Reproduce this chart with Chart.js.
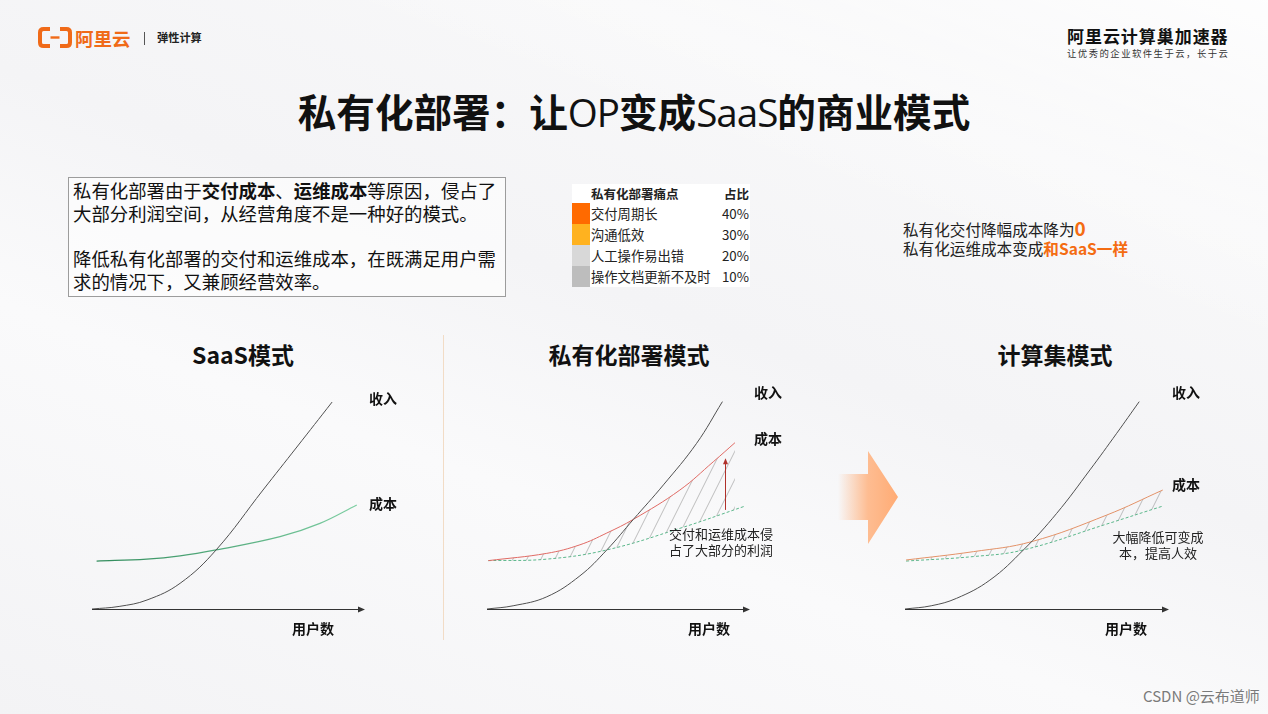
<!DOCTYPE html>
<html>
<head>
<meta charset="utf-8">
<script src="https://cdn.jsdelivr.net/npm/chart.js@4.4.0/dist/chart.umd.min.js"></script>
<style>
body {
    margin: 0;
    width: 1268px;
    height: 714px;
    overflow: hidden;
    position: relative;
    font-family: "Noto Sans CJK SC", "Noto Sans", sans-serif;
    color: #222;
    background:
        linear-gradient(200deg, rgba(255,255,255,0.9) 0%, rgba(255,255,255,0) 30%),
        linear-gradient(20deg, #f3f3f5 0%, #fafafb 35%, #f4f4f6 55%, #f8f8f9 80%, #f1f1f3 100%);
}
.abs { position: absolute; white-space: nowrap; }
.center { transform: translate(-50%, -50%); }
.vmid { transform: translateY(-50%); }
canvas { position: absolute; }
.sect { font-size: 23px; font-weight: bold; color: #111; line-height: 1; }
.lbl { font-size: 14px; font-weight: bold; color: #111; line-height: 1; }
.note { font-size: 13px; color: #222; line-height: 16px; }
#textBox {
    position: absolute; left: 68px; top: 177px; width: 432px; height: 117px;
    border: 1px solid #9c9c9c; background: rgba(255,255,255,0.55);
    font-size: 18.4px; line-height: 22.7px; padding: 1px 0 0 4px; box-sizing: content-box;
    white-space: nowrap; color: #111;
}
#painTable {
    position: absolute; left: 572px; top: 184px; width: 178px;
    background: #fff; font-size: 13.3px; color: #222;
}
#painTable .row { position: relative; height: 21px; line-height: 21px; }
#painTable .row.head { height: 19px; line-height: 19px; }
#painTable .sw { position: absolute; left: 0; top: 0; width: 18px; height: 21px; }
#painTable .name { position: absolute; left: 19px; }
#painTable .pct { position: absolute; right: 1px; }
#painTable .head { font-weight: bold; font-size: 12.5px; }
.orange { color: #f46c12; font-weight: bold; }
</style>
</head>
<body>

<!-- header -->
<svg class="abs" style="left:36px;top:26px" width="40" height="24" viewBox="36 26 40 24">
    <path d="M50,29 H43.5 Q40,29 40,32.5 V42.5 Q40,46 43.5,46 H50" fill="none" stroke="#f06a18" stroke-width="4"/>
    <path d="M60,29 H66.5 Q70,29 70,32.5 V42.5 Q70,46 66.5,46 H60" fill="none" stroke="#f06a18" stroke-width="4"/>
    <path d="M50.5,37.5 H59.5" stroke="#f06a18" stroke-width="2.4"/>
</svg>
<div class="abs vmid" style="left:75px;top:38px;font-size:18.5px;font-weight:bold;color:#f06a18;line-height:1">阿里云</div>
<div class="abs" style="left:144px;top:32px;width:1px;height:13px;background:#555"></div>
<div class="abs vmid" style="left:157px;top:38px;font-size:11.2px;font-weight:bold;color:#222;line-height:1">弹性计算</div>

<div class="abs vmid" style="left:1067px;top:35px;font-size:17px;font-weight:bold;letter-spacing:0.95px;color:#111;line-height:1">阿里云计算巢加速器</div>
<div class="abs vmid" style="left:1067px;top:54px;font-size:9.4px;letter-spacing:1.45px;color:#333;line-height:1">让优秀的企业软件生于云，长于云</div>

<div class="abs center" style="left:634px;top:111px;font-size:38.6px;font-weight:bold;color:#111;line-height:1">私有化部署：让<span style="font-weight:normal;font-family:'Open Sans','Noto Sans',sans-serif;letter-spacing:-1px">OP</span>变成<span style="font-weight:normal;font-family:'Open Sans','Noto Sans',sans-serif;letter-spacing:-1px">SaaS</span>的商业模式</div>

<!-- intro text -->
<div id="textBox">私有化部署由于<b>交付成本</b>、<b>运维成本</b>等原因，侵占了<br>大部分利润空间，从经营角度不是一种好的模式。<br><br>降低私有化部署的交付和运维成本，在既满足用户需<br>求的情况下，又兼顾经营效率。</div>

<!-- pain points table -->
<div id="painTable"></div>

<div class="abs vmid" style="left:903px;top:228px;font-size:15.6px;color:#222;line-height:1">私有化交付降幅成本降为<span class="orange" style="font-size:19px">0</span></div>
<div class="abs vmid" style="left:903px;top:249px;font-size:15.6px;color:#222;line-height:1">私有化运维成本变成<span class="orange">和SaaS一样</span></div>

<!-- section titles -->
<div class="abs center sect" style="left:243px;top:354px">SaaS模式</div>
<div class="abs center sect" style="left:629px;top:354px">私有化部署模式</div>
<div class="abs center sect" style="left:1055px;top:354px">计算集模式</div>
<div class="abs" style="left:443px;top:335px;width:1px;height:305px;background:#f2dcc6"></div>

<!-- arrow between charts -->
<svg class="abs" style="left:836px;top:448px" width="66" height="100" viewBox="836 448 66 100">
    <defs>
        <linearGradient id="arrowGrad" x1="0" x2="1" y1="0" y2="0">
            <stop offset="0" stop-color="#ffb27f" stop-opacity="0"/>
            <stop offset="0.5" stop-color="#ffb27f" stop-opacity="0.85"/>
            <stop offset="1" stop-color="#ffab74" stop-opacity="1"/>
        </linearGradient>
    </defs>
    <path d="M838,474 H868 V451 L898,497 L868,544 V520 H838 Z" fill="url(#arrowGrad)"/>
</svg>

<!-- charts -->
<canvas id="saasChart" width="295" height="238" style="left:80px;top:383px"></canvas>
<canvas id="privChart" width="285" height="238" style="left:475px;top:383px"></canvas>
<canvas id="nestChart" width="286" height="238" style="left:893px;top:383px"></canvas>

<div class="abs lbl" style="left:369px;top:391px">收入</div>
<div class="abs lbl" style="left:369px;top:496px">成本</div>
<div class="abs lbl" style="left:292px;top:621px">用户数</div>

<div class="abs lbl" style="left:754px;top:385px">收入</div>
<div class="abs lbl" style="left:754px;top:431px">成本</div>
<div class="abs lbl" style="left:688px;top:621px">用户数</div>
<div class="abs note" style="left:669px;top:526px">交付和运维成本侵<br>占了大部分的利润</div>

<div class="abs lbl" style="left:1172px;top:385px">收入</div>
<div class="abs lbl" style="left:1172px;top:477px">成本</div>
<div class="abs lbl" style="left:1105px;top:621px">用户数</div>
<div class="abs note" style="left:1158px;top:529px;transform:translateX(-50%);text-align:center">大幅降低可变成<br>本，提高人效</div>

<div class="abs vmid" style="left:1143px;top:695px;font-size:15px;color:#7a7a7a;line-height:1;text-shadow:0 0 2px #fff">CSDN @云布道师</div>

<script>
// pain points
const painLabels = ['交付周期长', '沟通低效', '人工操作易出错', '操作文档更新不及时'];
const painShares = ['40%', '30%', '20%', '10%'];
const painColors = ['#ff6a00', '#ffb21f', '#d8d8d8', '#bdbdbd'];

// SaaS model (x: users, y: amount)
const saasRevenueX = [0, 1, 2.03, 3.25, 4.58, 6.31, 7.56, 8.86];
const saasRevenueY = [0, 0.12, 0.42, 1.2, 2.76, 5.56, 7.57, 9.67];
const saasCostX = [0.17, 2.02, 3.25, 4.58, 6.94, 8.41, 9.77];
const saasCostY = [2.24, 2.33, 2.48, 2.76, 3.38, 4.0, 4.86];

// private deployment model
const privRevenueX = [0, 1, 2.29, 3.56, 4.59, 5.61, 6.76, 8.03, 9.02];
const privRevenueY = [0, 0.15, 0.57, 1.55, 2.76, 4.19, 5.8, 7.74, 9.69];
const privCostX = [0.05, 2.29, 3.56, 4.59, 5.61, 7.39, 8.67, 9.5];
const privCostY = [2.26, 2.6, 3.0, 3.55, 4.19, 5.56, 6.88, 7.77];
const privBaseX = [0.05, 2.29, 4.59, 7.39, 9.89];
const privBaseY = [2.26, 2.33, 2.76, 3.77, 4.81];
const privArrow = { x: 9.12, from: 4.63, to: 7.0 };

// compute nest model
const nestRevenueX = [0, 1, 1.97, 3.24, 4.52, 5.79, 7.06, 8.08, 8.94];
const nestRevenueY = [0, 0.15, 0.5, 1.35, 2.76, 4.47, 6.5, 8.21, 9.69];
const nestCostX = [0.04, 2.61, 4.84, 7.7, 9.84];
const nestCostY = [2.29, 2.68, 3.15, 4.39, 5.56];
const nestBaseX = [0.04, 2.61, 4.52, 7.7, 9.84];
const nestBaseY = [2.24, 2.45, 2.76, 3.97, 4.81];

const table = document.getElementById('painTable');
table.innerHTML = `<div class="row head"><span class="name">私有化部署痛点</span><span class="pct">占比</span></div>` +
    painLabels.map((label, i) => `
        <div class="row">
            <div class="sw" style="background:${painColors[i]}"></div>
            <span class="name">${label}</span><span class="pct">${painShares[i]}</span>
        </div>`).join('');

function points(xs, ys) {
    return xs.map((x, i) => ({ x, y: ys[i] }));
}

function hatchPattern() {
    const w = 14, h = 28;
    const c = document.createElement('canvas');
    c.width = w;
    c.height = h;
    const g = c.getContext('2d');
    g.strokeStyle = 'rgba(150,150,150,0.6)';
    g.lineWidth = 1;
    [-w, 0, w].forEach(off => {
        g.beginPath();
        g.moveTo(off, h);
        g.lineTo(off + w, 0);
        g.stroke();
    });
    return g.createPattern(c, 'repeat');
}

// x axis arrow plus an optional vertical marker arrow
const axisArrow = {
    id: 'axisArrow',
    afterDatasetsDraw(chart, args, opts) {
        const { ctx, scales: { x, y } } = chart;
        const y0 = y.getPixelForValue(0);
        const x0 = x.getPixelForValue(x.min);
        const x1 = x.getPixelForValue(x.max);
        ctx.save();
        ctx.strokeStyle = '#333';
        ctx.fillStyle = '#333';
        ctx.lineWidth = 1;
        ctx.beginPath();
        ctx.moveTo(x0, y0 + 0.5);
        ctx.lineTo(x1 - 3, y0 + 0.5);
        ctx.stroke();
        ctx.beginPath();
        ctx.moveTo(x1 + 2, y0 + 0.5);
        ctx.lineTo(x1 - 5, y0 - 2.5);
        ctx.lineTo(x1 - 5, y0 + 3.5);
        ctx.closePath();
        ctx.fill();
        if (opts.marker) {
            const m = opts.marker;
            const mx = Math.round(x.getPixelForValue(m.x)) + 0.5;
            const ya = y.getPixelForValue(m.from);
            const yb = y.getPixelForValue(m.to);
            ctx.strokeStyle = '#b0302a';
            ctx.fillStyle = '#b0302a';
            ctx.beginPath();
            ctx.moveTo(mx, ya);
            ctx.lineTo(mx, yb + 4);
            ctx.stroke();
            ctx.beginPath();
            ctx.moveTo(mx, yb - 1);
            ctx.lineTo(mx - 2.5, yb + 5);
            ctx.lineTo(mx + 2.5, yb + 5);
            ctx.closePath();
            ctx.fill();
        }
        ctx.restore();
    }
};

function greenGradient(context) {
    const { chart } = context;
    const { ctx, chartArea } = chart;
    if (!chartArea) return '#4db380';
    const g = ctx.createLinearGradient(chartArea.left, 0, chartArea.right, 0);
    g.addColorStop(0, '#2f8a5a');
    g.addColorStop(1, '#7fd0a4');
    return g;
}

function line(data, color, extra) {
    return Object.assign({
        data,
        borderColor: color,
        borderWidth: 1,
        pointRadius: 0,
        tension: 0.4,
        fill: false,
        clip: false
    }, extra || {});
}

function makeChart(id, datasets, marker) {
    return new Chart(document.getElementById(id), {
        type: 'line',
        data: { datasets },
        options: {
            responsive: false,
            animation: false,
            layout: { padding: 12 },
            plugins: {
                legend: { display: false },
                tooltip: { enabled: false },
                axisArrow: { marker }
            },
            scales: {
                x: { type: 'linear', min: 0, max: 10, display: false },
                y: { type: 'linear', min: 0, max: 10, display: false }
            }
        },
        plugins: [axisArrow]
    });
}

const revenueColor = '#505050';
const dashedGreen = { borderDash: [3, 2] };

makeChart('saasChart', [
    line(points(saasRevenueX, saasRevenueY), revenueColor),
    line(points(saasCostX, saasCostY), greenGradient, { borderWidth: 1.2 })
]);

makeChart('privChart', [
    line(points(privRevenueX, privRevenueY), revenueColor),
    line(points(privCostX, privCostY), '#e06a64', { fill: 2, backgroundColor: hatchPattern() }),
    line(points(privBaseX, privBaseY), '#5bb78b', dashedGreen)
], privArrow);

makeChart('nestChart', [
    line(points(nestRevenueX, nestRevenueY), revenueColor),
    line(points(nestCostX, nestCostY), '#e39268', { fill: 2, backgroundColor: hatchPattern() }),
    line(points(nestBaseX, nestBaseY), '#5bb78b', dashedGreen)
]);
</script>
</body>
</html>
